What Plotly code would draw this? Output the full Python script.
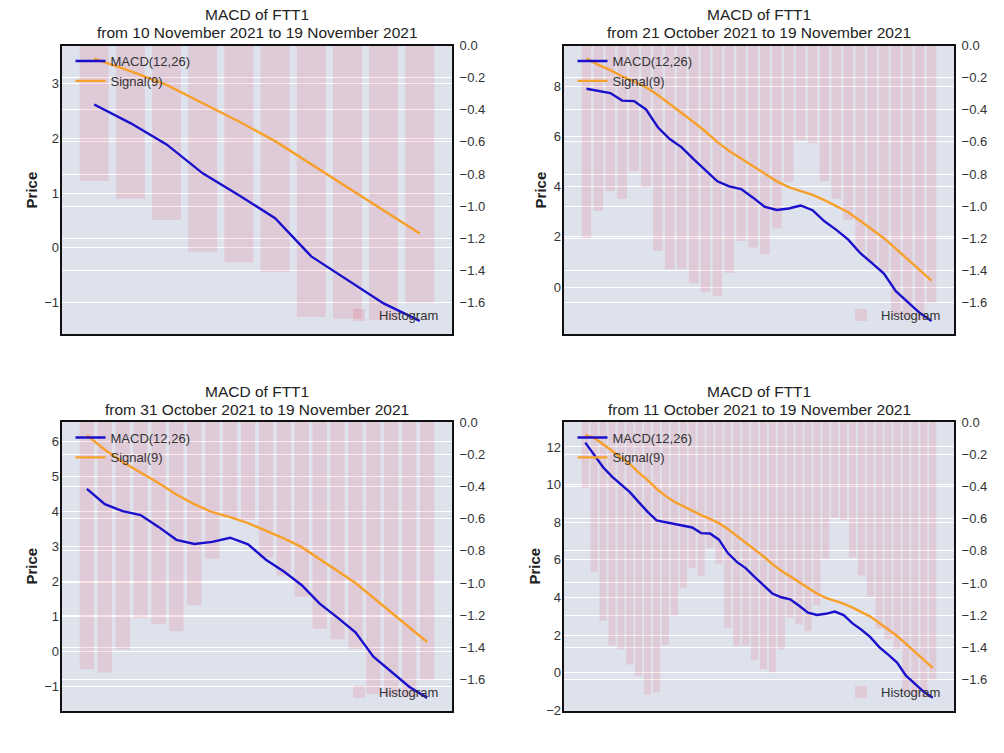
import plotly.graph_objects as go
import pandas as pd

# ---------------- data ----------------
dates = pd.date_range("2021-10-11", "2021-11-19", freq="D")

macd = [12.23, 11.58, 10.92, 10.42, 10.03, 9.60, 9.07, 8.55, 8.10, 8.01,
        7.89, 7.81, 7.72, 7.42, 7.40, 7.07, 6.36, 5.89, 5.56, 5.09,
        4.65, 4.21, 4.01, 3.90, 3.56, 3.19, 3.07, 3.13, 3.25, 3.06,
        2.62, 2.28, 1.89, 1.36, 0.96, 0.54, -0.16, -0.59, -1.02, -1.34]

signal = [12.63, 12.48, 12.15, 11.80, 11.44, 11.10, 10.64, 10.24, 9.78, 9.40,
          9.09, 8.84, 8.63, 8.38, 8.18, 7.95, 7.64, 7.28, 6.95, 6.57,
          6.19, 5.77, 5.42, 5.12, 4.82, 4.49, 4.21, 3.98, 3.84, 3.67,
          3.46, 3.23, 2.98, 2.64, 2.31, 1.95, 1.53, 1.11, 0.69, 0.26]

hist = [-0.41, -0.93, -1.235, -1.39, -1.414, -1.506, -1.577, -1.695, -1.68, -1.387,
        -1.20, -1.03, -0.905, -0.956, -0.782, -0.88, -1.279, -1.392, -1.391, -1.48,
        -1.536, -1.557, -1.414, -1.216, -1.257, -1.30, -1.139, -0.85, -0.593, -0.609,
        -0.843, -0.954, -1.086, -1.284, -1.35, -1.41, -1.69, -1.70, -1.71, -1.60]

windows = [10, 30, 20, 40]
start_labels = ["10 November 2021", "21 October 2021", "31 October 2021", "11 October 2021"]
end_label = "19 November 2021"
left_dtick = [1, 2, 1, 2]
right_ticks = [0.0, -0.2, -0.4, -0.6, -0.8, -1.0, -1.2, -1.4, -1.6]

# ---------------- layout geometry (pixels) ----------------
W, H = 1004, 753
panels = [(62, 452, 45.5, 334), (564, 954, 45.5, 334),
          (62, 452, 422, 711), (564, 954, 422, 711)]
price_x = [31.7, 540.7, 31, 534]

FONT = "Liberation Sans, Arial, sans-serif"
BG = "#DEE2ED"
MACD_C = "#1A10CC"
SIG_C = "#F7A02A"
BAR_C = "rgba(230,30,60,0.12)"
TXT = "#333333"


def px(x):
    return x / W


def py(y):
    return 1 - y / H


fig = go.Figure()
layout = dict(width=W, height=H, autosize=False,
              margin=dict(l=0, r=0, t=0, b=0, autoexpand=False),
              paper_bgcolor="white", plot_bgcolor=BG,
              font=dict(family=FONT, size=13, color=TXT),
              barmode="overlay", annotations=[])

DAY = pd.Timedelta(days=1)

for k in range(4):
    n = windows[k]
    d = dates[-n:]
    m = macd[-n:]
    s = signal[-n:]
    h = hist[-n:]
    x0, x1, yt, yb = panels[k]
    xa = "x" if k == 0 else f"x{k+1}"
    ybar_id = 2 * k + 1
    yline_id = 2 * k + 2
    ybar = "y" if ybar_id == 1 else f"y{ybar_id}"
    yline = f"y{yline_id}"
    leg_a = "legend" if k == 0 else f"legend{2*k+1}"
    leg_b = f"legend{2*k+2}"

    fig.add_trace(go.Bar(x=d, y=h, width=0.8 * 86400000, marker=dict(color=BAR_C, line=dict(width=0)),
                         name="Histogram", xaxis=xa, yaxis=ybar, legend=leg_b, showlegend=True))
    fig.add_trace(go.Scatter(x=d, y=m, mode="lines", line=dict(color=MACD_C, width=2.4),
                             name="MACD(12,26)", xaxis=xa, yaxis=yline, legend=leg_a))
    fig.add_trace(go.Scatter(x=d, y=s, mode="lines", line=dict(color=SIG_C, width=2.4),
                             name="Signal(9)", xaxis=xa, yaxis=yline, legend=leg_a))

    # x range: bars of width 0.8 day plus 5% margins (matplotlib autoscale)
    span = (n - 1) + 0.8
    pad = 0.4 + 0.05 * span
    xr = [d[0] - pad * DAY, d[-1] + pad * DAY]

    lo = min(min(m), min(s))
    hi = max(max(m), max(s))
    mg = 0.05 * (hi - lo)
    yr_line = [lo - mg, hi + mg]
    yr_bar = [min(h) * 1.05, 0]

    xkey = "xaxis" if k == 0 else f"xaxis{k+1}"
    layout[xkey] = dict(domain=[px(x0), px(x1)], anchor=ybar, range=xr, type="date",
                        showticklabels=False, ticks="", showgrid=False, zeroline=False,
                        showline=True, mirror=True, linecolor="#111111", linewidth=2,
                        automargin=False)
    ybkey = "yaxis" if ybar_id == 1 else f"yaxis{ybar_id}"
    layout[ybkey] = dict(domain=[py(yb), py(yt)], anchor=xa, side="right", range=yr_bar,
                         tickvals=right_ticks, tickformat=".1f", ticks="",
                         showgrid=True, gridcolor="white", gridwidth=1.3, zeroline=False,
                         showline=True, mirror=True, linecolor="#111111", linewidth=2,
                         tickfont=dict(size=13, color=TXT), ticklabelstandoff=3,
                         automargin=False)
    layout[f"yaxis{yline_id}"] = dict(anchor=xa, overlaying=ybar, side="left", range=yr_line,
                                      dtick=left_dtick[k], tick0=0, ticks="",
                                      showgrid=True, gridcolor="white", gridwidth=1.3,
                                      zeroline=False, showline=False,
                                      tickfont=dict(size=13, color=TXT), ticklabelstandoff=2,
                                      automargin=False)

    layout[leg_a] = dict(x=px(x0 + 8.5), y=py(yt + 0.5), xanchor="left", yanchor="top",
                         bgcolor="rgba(0,0,0,0)", font=dict(size=13, color=TXT),
                         itemwidth=30, tracegroupgap=0)
    layout[leg_b] = dict(x=px(x1 - 8), y=py(yb - 4), xanchor="right", yanchor="bottom",
                         bgcolor="rgba(0,0,0,0)", font=dict(size=13, color=TXT))

    cx = (x0 + x1) / 2
    ttop = 15 if k < 2 else 391.7
    layout["annotations"].append(dict(x=px(cx), y=py(ttop), xref="paper", yref="paper",
                                      text="MACD of FTT1", showarrow=False,
                                      font=dict(size=15.5, color="#222222"),
                                      xanchor="center", yanchor="middle"))
    layout["annotations"].append(dict(x=px(cx), y=py(ttop + 18), xref="paper", yref="paper",
                                      text=f"from {start_labels[k]} to {end_label}", showarrow=False,
                                      font=dict(size=15.5, color="#222222"),
                                      xanchor="center", yanchor="middle"))
    layout["annotations"].append(dict(x=px(price_x[k]), y=py((yt + yb) / 2), xref="paper", yref="paper",
                                      text="<b>Price</b>", showarrow=False, textangle=-90,
                                      font=dict(size=15, color="#222222"),
                                      xanchor="center", yanchor="middle"))

fig.update_layout(**layout)
fig.write_html("out.html")
